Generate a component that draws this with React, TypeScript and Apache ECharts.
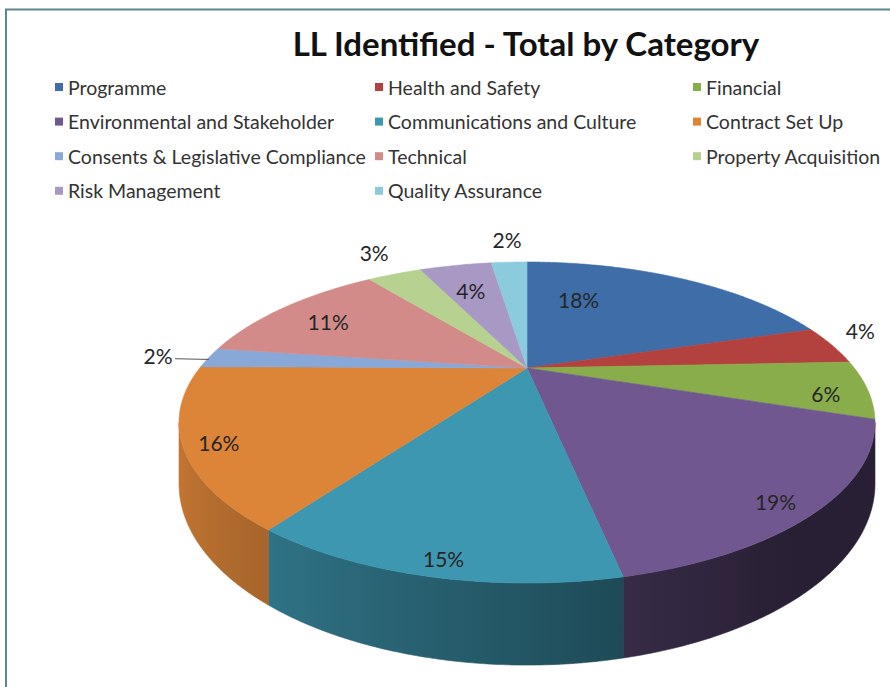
import { useEffect, useRef } from 'react';
import * as echarts from 'echarts';

const categories = [
  'Programme',
  'Health and Safety',
  'Financial',
  'Environmental and Stakeholder',
  'Communications and Culture',
  'Contract Set Up',
  'Consents & Legislative Compliance',
  'Technical',
  'Property Acquisition',
  'Risk Management',
  'Quality Assurance',
];
const shares = [18, 4, 6, 19, 15, 16, 2, 11, 3, 4, 2];
const colors = [
  '#3f6da7', '#b3413e', '#8aad4b', '#705790', '#3e97b0', '#dc8539',
  '#88a8d8', '#d38b8a', '#b6d190', '#a898c4', '#8ccbdb',
];
const legendColumns = [[0, 3, 6, 9], [1, 4, 7, 10], [2, 5, 8]];
const legendLeft = [55, 375, 693];
// label placement: angular position inside the slice (0..1) and radial fraction of the rim distance
const labelW = [0.45, 0.2, 0.62, 0.35, 0.585, 0.57, 0.5, 0.37, 0.57, 0.4, 0.53];
const labelFrac = [0.67, 1.14, 0.87, 0.89, 0.91, 0.9, 1.16, 0.8, 1.21, 0.76, 1.21];
const labelLeader = [false, false, false, false, false, false, true, false, false, false, false];

// 3D view parameters (perspective ellipse)
const CX = 527, CYA = 368, A = 0.3396, F = 327.3, G = 142, HS = 54.2;
const K1 = 0.1656, K3 = 0.02;
const FONT = 'Lato, "Open Sans", sans-serif';

const total = shares.reduce((s, v) => s + v, 0);
const cum: number[] = [0];
shares.forEach((v) => cum.push(cum[cum.length - 1] + v));

function rim(th: number): number[] {
  const d = 1 + A * Math.cos(th);
  return [CX + (F * Math.sin(th)) / d, CYA - (G * Math.cos(th)) / d];
}
function dz(th: number): number {
  return HS / (1 + A * Math.cos(th));
}
function ang(p: number): number {
  const t = 2 * Math.PI * p;
  return t + K1 * Math.sin(t) + K3 * (Math.cos(t) - 1);
}
const TR = Math.acos(-A);
const TL = 2 * Math.PI - TR;

function shade(hex: string, f: number): string {
  const n = parseInt(hex.slice(1), 16);
  const r = Math.round(((n >> 16) & 255) * f);
  const g = Math.round(((n >> 8) & 255) * f);
  const b = Math.round((n & 255) * f);
  return `rgb(${r},${g},${b})`;
}
function sideF(t: number): number {
  return Math.max(0.36, Math.min(0.9, 0.56 - 0.35 * Math.sin(t)));
}

function makeRender(i: number) {
  return (_params: any, api: any) => {
    const v = api.value(0);
    const th0 = ang(cum[i] / total);
    const th1 = ang((cum[i] + v) / total);
    const color = colors[i];
    const children: any[] = [];
    // top face
    const pts: number[][] = [[CX, CYA]];
    const n = Math.max(3, Math.ceil((th1 - th0) / 0.01));
    for (let k = 0; k <= n; k++) pts.push(rim(th0 + ((th1 - th0) * k) / n));
    children.push({
      type: 'polygon',
      z2: 1,
      shape: { points: pts },
      style: { fill: color, stroke: color, lineWidth: 0.6 },
    });
    // side wall, one polygon with a horizontal light-to-dark gradient
    const s0 = Math.max(th0, TR);
    const s1 = Math.min(th1, TL);
    if (s1 > s0) {
      const m = Math.max(2, Math.ceil((s1 - s0) / 0.01));
      const topPts: number[][] = [];
      const botPts: number[][] = [];
      const samples: { x: number; c: string }[] = [];
      for (let j = 0; j <= m; j++) {
        const a = s0 + ((s1 - s0) * j) / m;
        const p = rim(a);
        topPts.push(p);
        botPts.push([p[0], p[1] + dz(a)]);
        if (j % Math.max(1, Math.floor(m / 8)) === 0 || j === m) {
          samples.push({ x: p[0], c: shade(color, sideF(a)) });
        }
      }
      const xs = samples.map((s) => s.x);
      const xmin = Math.min(...xs);
      const xmax = Math.max(...xs);
      const stops = samples
        .map((s) => ({ offset: xmax > xmin ? (s.x - xmin) / (xmax - xmin) : 0, color: s.c }))
        .sort((p, q) => p.offset - q.offset);
      const grad = {
        type: 'linear',
        x: xmin,
        y: 0,
        x2: xmax,
        y2: 0,
        global: true,
        colorStops: stops,
      };
      children.push({
        type: 'polygon',
        z2: 0,
        shape: { points: topPts.concat(botPts.reverse()) },
        style: { fill: grad, stroke: grad, lineWidth: 0.6 },
      });
    }
    // label: direction interpolated between the two projected slice edges
    const r0 = rim(th0), r1 = rim(th1);
    const a0 = Math.atan2(r0[1] - CYA, r0[0] - CX);
    let a1 = Math.atan2(r1[1] - CYA, r1[0] - CX);
    while (a1 < a0) a1 += 2 * Math.PI;
    const al = a0 + (a1 - a0) * labelW[i];
    const b = [Math.cos(al), Math.sin(al)];
    const cross = (th: number) => {
      const p = rim(th);
      return b[0] * (p[1] - CYA) - b[1] * (p[0] - CX);
    };
    let lo = th0, hi = th1;
    const sLo = cross(lo);
    for (let it = 0; it < 40; it++) {
      const mid = (lo + hi) / 2;
      if (Math.sign(cross(mid)) === Math.sign(sLo)) lo = mid;
      else hi = mid;
    }
    const rp = rim((lo + hi) / 2);
    const dist = Math.hypot(rp[0] - CX, rp[1] - CYA);
    const lx = CX + b[0] * dist * labelFrac[i];
    const ly = CYA + b[1] * dist * labelFrac[i];
    children.push({
      type: 'text',
      z2: 100,
      x: lx,
      y: ly,
      style: {
        text: Math.round((v / total) * 100) + '%',
        align: 'center',
        verticalAlign: 'middle',
        fontSize: 21,
        fontFamily: FONT,
        fill: '#262626',
      },
    });
    if (labelLeader[i]) {
      children.push({
        type: 'line',
        z2: 100,
        shape: { x1: lx + 17, y1: ly + 3, x2: rp[0], y2: rp[1] + 2 },
        style: { stroke: '#555', lineWidth: 1 },
      });
    }
    return { type: 'group', children };
  };
}

export default function App() {
  const ref = useRef<HTMLDivElement>(null);
  useEffect(() => {
    if (!ref.current) return;
    const chart = echarts.init(ref.current, undefined, { renderer: 'svg' });
    chart.setOption({
      animation: false,
      backgroundColor: '#ffffff',
      legend: legendColumns.map((col, ci) => ({
        orient: 'vertical',
        left: legendLeft[ci],
        top: 77,
        padding: 0,
        itemWidth: 8,
        itemHeight: 8,
        itemGap: 14.6,
        icon: 'rect',
        selectedMode: false,
        data: col.map((k) => categories[k]),
        textStyle: { fontFamily: FONT, fontSize: 19.5, color: '#333' },
      })),
      graphic: [
        {
          type: 'rect',
          shape: { x: 6, y: 9.5, width: 1000, height: 1000 },
          style: { fill: 'none', stroke: '#5f8590', lineWidth: 2 },
          silent: true,
        },
        {
          type: 'text',
          x: 526,
          y: 43,
          style: {
            text: 'LL Identified - Total by Category',
            align: 'center',
            verticalAlign: 'middle',
            fontSize: 33,
            fontWeight: 'bold',
            fontFamily: FONT,
            fill: '#111',
          },
        },
      ],
      series: categories.map((name, i) => ({
        type: 'custom',
        name,
        coordinateSystem: 'none',
        itemStyle: { color: colors[i] },
        data: [[shares[i]]],
        renderItem: makeRender(i),
      })),
    });
    return () => chart.dispose();
  }, []);
  return (
    <div
      ref={ref}
      style={{ position: 'absolute', left: 0, top: 0, width: 890, height: 687 }}
    />
  );
}
